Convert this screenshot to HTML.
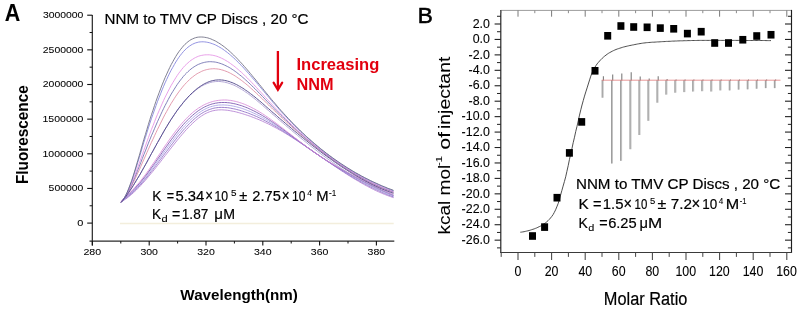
<!DOCTYPE html>
<html><head><meta charset="utf-8"><style>
html,body{margin:0;padding:0;background:#fff;width:800px;height:310px;overflow:hidden}
svg{display:block;will-change:transform}
text{font-family:"Liberation Sans", sans-serif}
</style></head><body>
<svg width="800" height="310" viewBox="0 0 800 310">
<rect width="800" height="310" fill="#fff"/>
<text x="4.67" y="21.00" font-size="24" font-weight="bold" fill="#000" textLength="15.50" lengthAdjust="spacingAndGlyphs" stroke="#000" stroke-width="0.05">A</text>
<text x="104.56" y="24.00" font-size="15.2"  fill="#000" textLength="204.01" lengthAdjust="spacingAndGlyphs"  stroke="#000" stroke-width="0.2">NNM to TMV CP Discs , 20 °C</text>
<line x1="92.30" y1="15.00" x2="92.30" y2="245.60" stroke="#1c1c1c" stroke-width="1.15"/>
<line x1="89.50" y1="241.10" x2="394.30" y2="241.10" stroke="#2a2a2a" stroke-width="1.15"/>
<line x1="87.20" y1="15.20" x2="92.30" y2="15.20" stroke="#111" stroke-width="1.1"/>
<line x1="89.60" y1="32.52" x2="92.30" y2="32.52" stroke="#111" stroke-width="1.0"/>
<text x="42.92" y="17.90" font-size="9.9"  fill="#000" textLength="40.48" lengthAdjust="spacingAndGlyphs" stroke="#000" stroke-width="0.06">3000000</text>
<line x1="87.20" y1="49.85" x2="92.30" y2="49.85" stroke="#111" stroke-width="1.1"/>
<line x1="89.60" y1="67.17" x2="92.30" y2="67.17" stroke="#111" stroke-width="1.0"/>
<text x="42.80" y="52.55" font-size="9.9"  fill="#000" textLength="40.61" lengthAdjust="spacingAndGlyphs" stroke="#000" stroke-width="0.06">2500000</text>
<line x1="87.20" y1="84.50" x2="92.30" y2="84.50" stroke="#111" stroke-width="1.1"/>
<line x1="89.60" y1="101.83" x2="92.30" y2="101.83" stroke="#111" stroke-width="1.0"/>
<text x="42.80" y="87.20" font-size="9.9"  fill="#000" textLength="40.61" lengthAdjust="spacingAndGlyphs" stroke="#000" stroke-width="0.06">2000000</text>
<line x1="87.20" y1="119.15" x2="92.30" y2="119.15" stroke="#111" stroke-width="1.1"/>
<line x1="89.60" y1="136.47" x2="92.30" y2="136.47" stroke="#111" stroke-width="1.0"/>
<text x="42.52" y="121.85" font-size="9.9"  fill="#000" textLength="40.89" lengthAdjust="spacingAndGlyphs" stroke="#000" stroke-width="0.06">1500000</text>
<line x1="87.20" y1="153.80" x2="92.30" y2="153.80" stroke="#111" stroke-width="1.1"/>
<line x1="89.60" y1="171.12" x2="92.30" y2="171.12" stroke="#111" stroke-width="1.0"/>
<text x="42.52" y="156.50" font-size="9.9"  fill="#000" textLength="40.89" lengthAdjust="spacingAndGlyphs" stroke="#000" stroke-width="0.06">1000000</text>
<line x1="87.20" y1="188.45" x2="92.30" y2="188.45" stroke="#111" stroke-width="1.1"/>
<line x1="89.60" y1="205.77" x2="92.30" y2="205.77" stroke="#111" stroke-width="1.0"/>
<text x="48.64" y="191.15" font-size="9.9"  fill="#000" textLength="34.76" lengthAdjust="spacingAndGlyphs" stroke="#000" stroke-width="0.06">500000</text>
<line x1="87.20" y1="223.10" x2="92.30" y2="223.10" stroke="#111" stroke-width="1.1"/>
<text x="77.33" y="225.80" font-size="9.9"  fill="#000" textLength="6.10" lengthAdjust="spacingAndGlyphs" stroke="#000" stroke-width="0.06">0</text>
<line x1="92.40" y1="241.10" x2="92.40" y2="245.60" stroke="#111" stroke-width="1.1"/>
<text x="83.46" y="255.20" font-size="9.9"  fill="#000" textLength="17.75" lengthAdjust="spacingAndGlyphs" stroke="#000" stroke-width="0.06">280</text>
<line x1="120.80" y1="241.10" x2="120.80" y2="243.50" stroke="#111" stroke-width="1.0"/>
<line x1="149.20" y1="241.10" x2="149.20" y2="245.60" stroke="#111" stroke-width="1.1"/>
<text x="140.40" y="255.20" font-size="9.9"  fill="#000" textLength="17.61" lengthAdjust="spacingAndGlyphs" stroke="#000" stroke-width="0.06">300</text>
<line x1="177.60" y1="241.10" x2="177.60" y2="243.50" stroke="#111" stroke-width="1.0"/>
<line x1="206.00" y1="241.10" x2="206.00" y2="245.60" stroke="#111" stroke-width="1.1"/>
<text x="197.20" y="255.20" font-size="9.9"  fill="#000" textLength="17.61" lengthAdjust="spacingAndGlyphs" stroke="#000" stroke-width="0.06">320</text>
<line x1="234.40" y1="241.10" x2="234.40" y2="243.50" stroke="#111" stroke-width="1.0"/>
<line x1="262.80" y1="241.10" x2="262.80" y2="245.60" stroke="#111" stroke-width="1.1"/>
<text x="254.00" y="255.20" font-size="9.9"  fill="#000" textLength="17.61" lengthAdjust="spacingAndGlyphs" stroke="#000" stroke-width="0.06">340</text>
<line x1="291.20" y1="241.10" x2="291.20" y2="243.50" stroke="#111" stroke-width="1.0"/>
<line x1="319.60" y1="241.10" x2="319.60" y2="245.60" stroke="#111" stroke-width="1.1"/>
<text x="310.80" y="255.20" font-size="9.9"  fill="#000" textLength="17.61" lengthAdjust="spacingAndGlyphs" stroke="#000" stroke-width="0.06">360</text>
<line x1="348.00" y1="241.10" x2="348.00" y2="243.50" stroke="#111" stroke-width="1.0"/>
<line x1="376.40" y1="241.10" x2="376.40" y2="245.60" stroke="#111" stroke-width="1.1"/>
<text x="367.60" y="255.20" font-size="9.9"  fill="#000" textLength="17.61" lengthAdjust="spacingAndGlyphs" stroke="#000" stroke-width="0.06">380</text>
<g transform="translate(27.9,183.0) rotate(-90)">
<text x="-1.02" y="0.00" font-size="15.6" font-weight="bold" fill="#000" textLength="98.75" lengthAdjust="spacingAndGlyphs" >Fluorescence</text>
</g>
<text x="180.39" y="299.60" font-size="15" font-weight="bold" fill="#000" textLength="117.57" lengthAdjust="spacingAndGlyphs" >Wavelength(nm)</text>
<line x1="120.00" y1="223.50" x2="393.70" y2="223.50" stroke="#f3eedc" stroke-width="1.3"/>
<line x1="277.90" y1="51.00" x2="277.90" y2="89.00" stroke="#e2000e" stroke-width="2.3"/>
<polyline points="273.6,82.6 277.9,89.8 282.2,82.6" fill="none" stroke="#e2000e" stroke-width="2.2" stroke-linejoin="miter" stroke-linecap="round"/>
<text x="296.49" y="69.90" font-size="15.8" font-weight="bold" fill="#e2000e" textLength="82.82" lengthAdjust="spacingAndGlyphs" >Increasing</text>
<text x="296.51" y="89.90" font-size="15.8" font-weight="bold" fill="#e2000e" textLength="37.08" lengthAdjust="spacingAndGlyphs" >NNM</text>
<text x="152.17" y="201.00" font-size="15.1"  fill="#000" textLength="9.18" lengthAdjust="spacingAndGlyphs"  stroke="#000" stroke-width="0.2">K</text>
<text x="166.69" y="201.00" font-size="15.1"  fill="#000" textLength="7.33" lengthAdjust="spacingAndGlyphs"  stroke="#000" stroke-width="0.2">=</text>
<text x="175.51" y="201.00" font-size="15.1"  fill="#000" textLength="28.83" lengthAdjust="spacingAndGlyphs"  stroke="#000" stroke-width="0.2">5.34</text>
<text x="214.47" y="201.00" font-size="15.1"  fill="#000" textLength="13.61" lengthAdjust="spacingAndGlyphs"  stroke="#000" stroke-width="0.2">10</text>
<text x="239.34" y="201.00" font-size="15.1"  fill="#000" textLength="8.02" lengthAdjust="spacingAndGlyphs"  stroke="#000" stroke-width="0.2">±</text>
<text x="252.26" y="201.00" font-size="15.1"  fill="#000" textLength="28.55" lengthAdjust="spacingAndGlyphs"  stroke="#000" stroke-width="0.2">2.75</text>
<text x="291.98" y="201.00" font-size="15.1"  fill="#000" textLength="13.39" lengthAdjust="spacingAndGlyphs"  stroke="#000" stroke-width="0.2">10</text>
<text x="316.29" y="201.00" font-size="15.1"  fill="#000" textLength="12.33" lengthAdjust="spacingAndGlyphs"  stroke="#000" stroke-width="0.2">M</text>
<text x="205.28" y="201.00" font-size="15.8"  fill="#000" textLength="7.73" lengthAdjust="spacingAndGlyphs"  stroke="#000" stroke-width="0.2">×</text>
<text x="281.77" y="201.00" font-size="15.8"  fill="#000" textLength="7.86" lengthAdjust="spacingAndGlyphs"  stroke="#000" stroke-width="0.2">×</text>
<text x="231.10" y="196.00" font-size="9.3"  fill="#000" textLength="5.51" lengthAdjust="spacingAndGlyphs" stroke="#000" stroke-width="0.1">5</text>
<text x="307.30" y="196.00" font-size="9.3"  fill="#000" textLength="4.75" lengthAdjust="spacingAndGlyphs" stroke="#000" stroke-width="0.1">4</text>
<text x="329.04" y="196.00" font-size="9.3"  fill="#000" textLength="7.26" lengthAdjust="spacingAndGlyphs" stroke="#000" stroke-width="0.1">-1</text>
<text x="151.88" y="219.00" font-size="15.1"  fill="#000" textLength="9.07" lengthAdjust="spacingAndGlyphs"  stroke="#000" stroke-width="0.2">K</text>
<text x="172.01" y="219.00" font-size="15.1"  fill="#000" textLength="8.29" lengthAdjust="spacingAndGlyphs"  stroke="#000" stroke-width="0.2">=</text>
<text x="181.76" y="219.00" font-size="15.1"  fill="#000" textLength="26.63" lengthAdjust="spacingAndGlyphs"  stroke="#000" stroke-width="0.2">1.87</text>
<text x="214.18" y="219.00" font-size="15.1"  fill="#000" textLength="8.73" lengthAdjust="spacingAndGlyphs"  stroke="#000" stroke-width="0.2">μ</text>
<text x="223.24" y="219.00" font-size="15.1"  fill="#000" textLength="11.83" lengthAdjust="spacingAndGlyphs"  stroke="#000" stroke-width="0.2">M</text>
<text x="161.53" y="222.00" font-size="8.8"  fill="#000" textLength="6.18" lengthAdjust="spacingAndGlyphs" stroke="#000" stroke-width="0.1">d</text>
<polyline points="121.0,201.9 122.5,201.1 124.0,200.1 125.6,199.1 127.1,198.0 128.6,196.8 130.1,195.6 131.7,194.3 133.2,192.9 134.7,191.5 136.2,190.1 137.7,188.5 139.3,187.0 140.8,185.4 142.3,183.7 143.8,182.0 145.4,180.3 146.9,178.5 148.4,176.7 149.9,174.9 151.4,173.1 153.0,171.2 154.5,169.3 156.0,167.4 157.5,165.5 159.1,163.5 160.6,161.6 162.1,159.6 163.6,157.6 165.1,155.7 166.7,153.7 168.2,151.8 169.7,149.8 171.2,147.9 172.8,145.9 174.3,144.0 175.8,142.1 177.3,140.2 178.8,138.4 180.4,136.5 181.9,134.7 183.4,133.0 184.9,131.2 186.5,129.5 188.0,127.9 189.5,126.3 191.0,124.8 192.6,123.3 194.1,121.9 195.6,120.5 197.1,119.2 198.6,118.0 200.2,116.9 201.7,115.8 203.2,114.9 204.7,114.0 206.3,113.2 207.8,112.5 209.3,111.9 210.8,111.4 212.3,110.9 213.9,110.6 215.4,110.3 216.9,110.1 218.4,109.9 220.0,109.9 221.5,109.8 223.0,109.9 224.5,110.0 226.0,110.1 227.6,110.3 229.1,110.5 230.6,110.8 232.1,111.1 233.7,111.4 235.2,111.7 236.7,112.1 238.2,112.5 239.7,112.9 241.3,113.4 242.8,113.8 244.3,114.3 245.8,114.8 247.4,115.3 248.9,115.8 250.4,116.3 251.9,116.9 253.4,117.5 255.0,118.1 256.5,118.7 258.0,119.3 259.5,119.9 261.1,120.6 262.6,121.3 264.1,122.0 265.6,122.7 267.1,123.4 268.7,124.1 270.2,124.9 271.7,125.7 273.2,126.5 274.8,127.3 276.3,128.1 277.8,128.9 279.3,129.8 280.8,130.6 282.4,131.5 283.9,132.4 285.4,133.3 286.9,134.2 288.5,135.2 290.0,136.1 291.5,137.1 293.0,138.0 294.5,139.0 296.1,140.0 297.6,141.0 299.1,142.0 300.6,143.0 302.2,144.0 303.7,145.0 305.2,146.0 306.7,147.1 308.2,148.1 309.8,149.1 311.3,150.2 312.8,151.2 314.3,152.3 315.9,153.3 317.4,154.4 318.9,155.4 320.4,156.5 321.9,157.5 323.5,158.6 325.0,159.6 326.5,160.7 328.0,161.7 329.6,162.7 331.1,163.8 332.6,164.8 334.1,165.9 335.7,166.9 337.2,167.9 338.7,168.9 340.2,169.9 341.7,170.9 343.3,171.9 344.8,172.9 346.3,173.9 347.8,174.8 349.4,175.8 350.9,176.8 352.4,177.7 353.9,178.6 355.4,179.5 357.0,180.4 358.5,181.3 360.0,182.2 361.5,183.1 363.1,183.9 364.6,184.8 366.1,185.6 367.6,186.4 369.1,187.2 370.7,188.0 372.2,188.8 373.7,189.5 375.2,190.3 376.8,191.0 378.3,191.7 379.8,192.4 381.3,193.0 382.8,193.7 384.4,194.3 385.9,194.9 387.4,195.5 388.9,196.0 390.5,196.6 392.0,197.1 393.5,197.6" fill="none" stroke="#b27ed2" stroke-width="0.85" stroke-opacity="1.0"/>
<polyline points="121.0,201.8 122.5,200.8 124.0,199.7 125.6,198.5 127.1,197.3 128.6,196.1 130.1,194.8 131.7,193.4 133.2,192.0 134.7,190.5 136.2,189.0 137.7,187.5 139.3,185.8 140.8,184.2 142.3,182.5 143.8,180.7 145.4,178.9 146.9,177.1 148.4,175.2 149.9,173.3 151.4,171.3 153.0,169.4 154.5,167.4 156.0,165.4 157.5,163.4 159.1,161.3 160.6,159.3 162.1,157.3 163.6,155.2 165.1,153.2 166.7,151.2 168.2,149.2 169.7,147.2 171.2,145.2 172.8,143.2 174.3,141.2 175.8,139.3 177.3,137.4 178.8,135.5 180.4,133.7 181.9,131.9 183.4,130.1 184.9,128.4 186.5,126.8 188.0,125.1 189.5,123.6 191.0,122.1 192.6,120.6 194.1,119.2 195.6,117.9 197.1,116.7 198.6,115.5 200.2,114.4 201.7,113.4 203.2,112.5 204.7,111.6 206.3,110.9 207.8,110.2 209.3,109.6 210.8,109.1 212.3,108.6 213.9,108.2 215.4,107.9 216.9,107.7 218.4,107.5 220.0,107.4 221.5,107.4 223.0,107.4 224.5,107.5 226.0,107.6 227.6,107.7 229.1,107.9 230.6,108.2 232.1,108.5 233.7,108.8 235.2,109.1 236.7,109.5 238.2,109.9 239.7,110.3 241.3,110.8 242.8,111.3 244.3,111.8 245.8,112.3 247.4,112.8 248.9,113.4 250.4,114.0 251.9,114.6 253.4,115.2 255.0,115.9 256.5,116.5 258.0,117.2 259.5,117.9 261.1,118.7 262.6,119.4 264.1,120.2 265.6,121.0 267.1,121.8 268.7,122.6 270.2,123.4 271.7,124.3 273.2,125.1 274.8,126.0 276.3,126.9 277.8,127.8 279.3,128.8 280.8,129.7 282.4,130.6 283.9,131.6 285.4,132.6 286.9,133.6 288.5,134.6 290.0,135.6 291.5,136.6 293.0,137.6 294.5,138.6 296.1,139.7 297.6,140.7 299.1,141.7 300.6,142.8 302.2,143.8 303.7,144.9 305.2,145.9 306.7,147.0 308.2,148.1 309.8,149.1 311.3,150.2 312.8,151.2 314.3,152.3 315.9,153.3 317.4,154.4 318.9,155.4 320.4,156.5 321.9,157.5 323.5,158.5 325.0,159.6 326.5,160.6 328.0,161.6 329.6,162.6 331.1,163.6 332.6,164.6 334.1,165.6 335.7,166.6 337.2,167.6 338.7,168.6 340.2,169.5 341.7,170.5 343.3,171.4 344.8,172.4 346.3,173.3 347.8,174.3 349.4,175.2 350.9,176.1 352.4,177.0 353.9,177.9 355.4,178.8 357.0,179.6 358.5,180.5 360.0,181.3 361.5,182.2 363.1,183.0 364.6,183.8 366.1,184.6 367.6,185.4 369.1,186.2 370.7,187.0 372.2,187.7 373.7,188.5 375.2,189.2 376.8,189.9 378.3,190.6 379.8,191.3 381.3,192.0 382.8,192.7 384.4,193.3 385.9,193.9 387.4,194.6 388.9,195.2 390.5,195.7 392.0,196.3 393.5,196.9" fill="none" stroke="#8c6cc4" stroke-width="0.85" stroke-opacity="1.0"/>
<polyline points="121.0,201.7 122.5,200.5 124.0,199.3 125.6,198.0 127.1,196.7 128.6,195.4 130.1,194.0 131.7,192.6 133.2,191.1 134.7,189.6 136.2,188.0 137.7,186.4 139.3,184.7 140.8,183.0 142.3,181.2 143.8,179.4 145.4,177.5 146.9,175.6 148.4,173.6 149.9,171.6 151.4,169.6 153.0,167.5 154.5,165.5 156.0,163.4 157.5,161.3 159.1,159.2 160.6,157.1 162.1,154.9 163.6,152.8 165.1,150.7 166.7,148.6 168.2,146.6 169.7,144.5 171.2,142.5 172.8,140.5 174.3,138.5 175.8,136.5 177.3,134.6 178.8,132.7 180.4,130.9 181.9,129.1 183.4,127.3 184.9,125.6 186.5,124.0 188.0,122.4 189.5,120.8 191.0,119.4 192.6,118.0 194.1,116.6 195.6,115.4 197.1,114.2 198.6,113.0 200.2,112.0 201.7,111.0 203.2,110.1 204.7,109.3 206.3,108.5 207.8,107.8 209.3,107.2 210.8,106.7 212.3,106.3 213.9,105.9 215.4,105.6 216.9,105.3 218.4,105.1 220.0,105.0 221.5,105.0 223.0,104.9 224.5,105.0 226.0,105.1 227.6,105.2 229.1,105.4 230.6,105.6 232.1,105.9 233.7,106.2 235.2,106.5 236.7,106.9 238.2,107.3 239.7,107.7 241.3,108.2 242.8,108.7 244.3,109.2 245.8,109.8 247.4,110.4 248.9,111.0 250.4,111.6 251.9,112.3 253.4,113.0 255.0,113.7 256.5,114.4 258.0,115.2 259.5,115.9 261.1,116.7 262.6,117.6 264.1,118.4 265.6,119.3 267.1,120.1 268.7,121.0 270.2,121.9 271.7,122.9 273.2,123.8 274.8,124.8 276.3,125.7 277.8,126.7 279.3,127.7 280.8,128.7 282.4,129.8 283.9,130.8 285.4,131.8 286.9,132.9 288.5,134.0 290.0,135.0 291.5,136.1 293.0,137.2 294.5,138.3 296.1,139.3 297.6,140.4 299.1,141.5 300.6,142.6 302.2,143.7 303.7,144.8 305.2,145.9 306.7,147.0 308.2,148.0 309.8,149.1 311.3,150.2 312.8,151.2 314.3,152.3 315.9,153.3 317.4,154.4 318.9,155.4 320.4,156.5 321.9,157.5 323.5,158.5 325.0,159.5 326.5,160.5 328.0,161.5 329.6,162.5 331.1,163.4 332.6,164.4 334.1,165.4 335.7,166.3 337.2,167.3 338.7,168.2 340.2,169.1 341.7,170.1 343.3,171.0 344.8,171.9 346.3,172.8 347.8,173.7 349.4,174.5 350.9,175.4 352.4,176.3 353.9,177.1 355.4,178.0 357.0,178.8 358.5,179.7 360.0,180.5 361.5,181.3 363.1,182.1 364.6,182.9 366.1,183.7 367.6,184.4 369.1,185.2 370.7,186.0 372.2,186.7 373.7,187.4 375.2,188.2 376.8,188.9 378.3,189.6 379.8,190.3 381.3,191.0 382.8,191.7 384.4,192.3 385.9,193.0 387.4,193.6 388.9,194.3 390.5,194.9 392.0,195.5 393.5,196.2" fill="none" stroke="#a9a0e6" stroke-width="0.85" stroke-opacity="1.0"/>
<polyline points="121.0,201.6 122.5,200.3 124.0,198.9 125.6,197.5 127.1,196.1 128.6,194.7 130.1,193.2 131.7,191.7 133.2,190.2 134.7,188.6 136.2,187.0 137.7,185.3 139.3,183.6 140.8,181.8 142.3,179.9 143.8,178.0 145.4,176.1 146.9,174.1 148.4,172.0 149.9,170.0 151.4,167.8 153.0,165.7 154.5,163.6 156.0,161.4 157.5,159.2 159.1,157.0 160.6,154.8 162.1,152.6 163.6,150.4 165.1,148.3 166.7,146.1 168.2,144.0 169.7,141.8 171.2,139.8 172.8,137.7 174.3,135.7 175.8,133.7 177.3,131.8 178.8,129.9 180.4,128.0 181.9,126.2 183.4,124.5 184.9,122.8 186.5,121.2 188.0,119.6 189.5,118.1 191.0,116.7 192.6,115.3 194.1,114.0 195.6,112.8 197.1,111.6 198.6,110.5 200.2,109.5 201.7,108.6 203.2,107.7 204.7,106.9 206.3,106.2 207.8,105.5 209.3,104.9 210.8,104.4 212.3,103.9 213.9,103.6 215.4,103.2 216.9,103.0 218.4,102.7 220.0,102.6 221.5,102.5 223.0,102.5 224.5,102.5 226.0,102.5 227.6,102.7 229.1,102.8 230.6,103.0 232.1,103.3 233.7,103.6 235.2,103.9 236.7,104.3 238.2,104.7 239.7,105.2 241.3,105.6 242.8,106.2 244.3,106.7 245.8,107.3 247.4,107.9 248.9,108.6 250.4,109.3 251.9,110.0 253.4,110.7 255.0,111.5 256.5,112.3 258.0,113.1 259.5,113.9 261.1,114.8 262.6,115.7 264.1,116.6 265.6,117.5 267.1,118.5 268.7,119.5 270.2,120.5 271.7,121.5 273.2,122.5 274.8,123.5 276.3,124.6 277.8,125.6 279.3,126.7 280.8,127.8 282.4,128.9 283.9,130.0 285.4,131.1 286.9,132.2 288.5,133.4 290.0,134.5 291.5,135.6 293.0,136.8 294.5,137.9 296.1,139.0 297.6,140.2 299.1,141.3 300.6,142.4 302.2,143.6 303.7,144.7 305.2,145.8 306.7,146.9 308.2,148.0 309.8,149.1 311.3,150.2 312.8,151.3 314.3,152.3 315.9,153.4 317.4,154.4 318.9,155.4 320.4,156.4 321.9,157.5 323.5,158.4 325.0,159.4 326.5,160.4 328.0,161.4 329.6,162.3 331.1,163.3 332.6,164.2 334.1,165.1 335.7,166.1 337.2,167.0 338.7,167.9 340.2,168.8 341.7,169.6 343.3,170.5 344.8,171.4 346.3,172.2 347.8,173.1 349.4,173.9 350.9,174.8 352.4,175.6 353.9,176.4 355.4,177.2 357.0,178.0 358.5,178.8 360.0,179.6 361.5,180.4 363.1,181.2 364.6,181.9 366.1,182.7 367.6,183.4 369.1,184.2 370.7,184.9 372.2,185.7 373.7,186.4 375.2,187.1 376.8,187.8 378.3,188.6 379.8,189.3 381.3,190.0 382.8,190.7 384.4,191.4 385.9,192.1 387.4,192.7 388.9,193.4 390.5,194.1 392.0,194.8 393.5,195.4" fill="none" stroke="#7650ac" stroke-width="0.85" stroke-opacity="1.0"/>
<polyline points="121.0,201.5 122.5,200.0 124.0,198.5 125.6,197.0 127.1,195.5 128.6,193.9 130.1,192.4 131.7,190.8 133.2,189.3 134.7,187.6 136.2,186.0 137.7,184.2 139.3,182.5 140.8,180.6 142.3,178.7 143.8,176.7 145.4,174.7 146.9,172.6 148.4,170.5 149.9,168.3 151.4,166.1 153.0,163.9 154.5,161.6 156.0,159.4 157.5,157.1 159.1,154.8 160.6,152.6 162.1,150.3 163.6,148.0 165.1,145.8 166.7,143.6 168.2,141.4 169.7,139.2 171.2,137.1 172.8,135.0 174.3,132.9 175.8,130.9 177.3,129.0 178.8,127.1 180.4,125.2 181.9,123.4 183.4,121.7 184.9,120.0 186.5,118.4 188.0,116.8 189.5,115.4 191.0,114.0 192.6,112.6 194.1,111.4 195.6,110.2 197.1,109.1 198.6,108.0 200.2,107.1 201.7,106.2 203.2,105.3 204.7,104.5 206.3,103.8 207.8,103.2 209.3,102.6 210.8,102.1 212.3,101.6 213.9,101.2 215.4,100.9 216.9,100.6 218.4,100.4 220.0,100.2 221.5,100.1 223.0,100.0 224.5,100.0 226.0,100.0 227.6,100.1 229.1,100.3 230.6,100.4 232.1,100.7 233.7,101.0 235.2,101.3 236.7,101.7 238.2,102.1 239.7,102.6 241.3,103.1 242.8,103.6 244.3,104.2 245.8,104.8 247.4,105.5 248.9,106.2 250.4,106.9 251.9,107.7 253.4,108.5 255.0,109.3 256.5,110.2 258.0,111.0 259.5,111.9 261.1,112.9 262.6,113.8 264.1,114.8 265.6,115.8 267.1,116.9 268.7,117.9 270.2,119.0 271.7,120.1 273.2,121.2 274.8,122.3 276.3,123.4 277.8,124.5 279.3,125.7 280.8,126.9 282.4,128.0 283.9,129.2 285.4,130.4 286.9,131.6 288.5,132.8 290.0,133.9 291.5,135.1 293.0,136.3 294.5,137.5 296.1,138.7 297.6,139.9 299.1,141.1 300.6,142.3 302.2,143.4 303.7,144.6 305.2,145.7 306.7,146.9 308.2,148.0 309.8,149.1 311.3,150.2 312.8,151.3 314.3,152.3 315.9,153.4 317.4,154.4 318.9,155.4 320.4,156.4 321.9,157.4 323.5,158.4 325.0,159.4 326.5,160.3 328.0,161.3 329.6,162.2 331.1,163.1 332.6,164.0 334.1,164.9 335.7,165.8 337.2,166.7 338.7,167.5 340.2,168.4 341.7,169.2 343.3,170.0 344.8,170.9 346.3,171.7 347.8,172.5 349.4,173.3 350.9,174.1 352.4,174.9 353.9,175.7 355.4,176.4 357.0,177.2 358.5,178.0 360.0,178.7 361.5,179.5 363.1,180.2 364.6,181.0 366.1,181.7 367.6,182.4 369.1,183.2 370.7,183.9 372.2,184.6 373.7,185.4 375.2,186.1 376.8,186.8 378.3,187.5 379.8,188.2 381.3,189.0 382.8,189.7 384.4,190.4 385.9,191.1 387.4,191.8 388.9,192.6 390.5,193.3 392.0,194.0 393.5,194.7" fill="none" stroke="#d88ad8" stroke-width="0.85" stroke-opacity="1.0"/>
<polyline points="121.0,202.4 122.5,200.6 124.0,198.7 125.6,196.5 127.1,194.1 128.6,191.5 130.1,188.7 131.7,185.8 133.2,182.8 134.7,179.7 136.2,176.5 137.7,173.1 139.3,169.8 140.8,166.4 142.3,162.9 143.8,159.5 145.4,156.0 146.9,152.6 148.4,149.2 149.9,145.8 151.4,142.4 153.0,139.1 154.5,135.8 156.0,132.6 157.5,129.4 159.1,126.2 160.6,123.1 162.1,120.1 163.6,117.1 165.1,114.2 166.7,111.4 168.2,108.7 169.7,106.0 171.2,103.4 172.8,100.9 174.3,98.5 175.8,96.2 177.3,94.0 178.8,91.9 180.4,89.8 181.9,87.9 183.4,86.0 184.9,84.3 186.5,82.6 188.0,81.1 189.5,79.6 191.0,78.2 192.6,77.0 194.1,75.8 195.6,74.7 197.1,73.7 198.6,72.9 200.2,72.1 201.7,71.3 203.2,70.7 204.7,70.2 206.3,69.7 207.8,69.4 209.3,69.1 210.8,68.9 212.3,68.8 213.9,68.7 215.4,68.8 216.9,68.9 218.4,69.1 220.0,69.4 221.5,69.8 223.0,70.2 224.5,70.7 226.0,71.3 227.6,71.9 229.1,72.6 230.6,73.4 232.1,74.2 233.7,75.1 235.2,76.0 236.7,77.0 238.2,78.1 239.7,79.1 241.3,80.3 242.8,81.4 244.3,82.6 245.8,83.8 247.4,85.1 248.9,86.4 250.4,87.8 251.9,89.1 253.4,90.5 255.0,91.9 256.5,93.3 258.0,94.7 259.5,96.2 261.1,97.7 262.6,99.1 264.1,100.6 265.6,102.1 267.1,103.6 268.7,105.1 270.2,106.6 271.7,108.0 273.2,109.5 274.8,111.0 276.3,112.4 277.8,113.9 279.3,115.3 280.8,116.7 282.4,118.2 283.9,119.6 285.4,121.0 286.9,122.4 288.5,123.8 290.0,125.2 291.5,126.5 293.0,127.9 294.5,129.2 296.1,130.6 297.6,131.9 299.1,133.2 300.6,134.5 302.2,135.9 303.7,137.1 305.2,138.4 306.7,139.7 308.2,141.0 309.8,142.2 311.3,143.5 312.8,144.7 314.3,145.9 315.9,147.1 317.4,148.3 318.9,149.5 320.4,150.7 321.9,151.9 323.5,153.0 325.0,154.2 326.5,155.3 328.0,156.4 329.6,157.5 331.1,158.6 332.6,159.7 334.1,160.8 335.7,161.9 337.2,162.9 338.7,164.0 340.2,165.0 341.7,166.0 343.3,167.0 344.8,168.0 346.3,169.0 347.8,169.9 349.4,170.9 350.9,171.8 352.4,172.8 353.9,173.7 355.4,174.6 357.0,175.5 358.5,176.3 360.0,177.2 361.5,178.0 363.1,178.9 364.6,179.7 366.1,180.5 367.6,181.3 369.1,182.1 370.7,182.8 372.2,183.6 373.7,184.3 375.2,185.0 376.8,185.7 378.3,186.4 379.8,187.1 381.3,187.7 382.8,188.4 384.4,189.0 385.9,189.6 387.4,190.2 388.9,190.8 390.5,191.4 392.0,191.9 393.5,192.5" fill="none" stroke="#de8aa0" stroke-width="0.85" stroke-opacity="1.0"/>
<polyline points="121.0,202.4 122.5,200.6 124.0,198.6 125.6,196.3 127.1,193.7 128.6,190.8 130.1,187.8 131.7,184.6 133.2,181.2 134.7,177.6 136.2,174.0 137.7,170.2 139.3,166.4 140.8,162.5 142.3,158.6 143.8,154.7 145.4,150.9 146.9,147.0 148.4,143.2 149.9,139.5 151.4,135.8 153.0,132.2 154.5,128.6 156.0,125.1 157.5,121.6 159.1,118.2 160.6,114.9 162.1,111.7 163.6,108.5 165.1,105.5 166.7,102.5 168.2,99.6 169.7,96.8 171.2,94.1 172.8,91.5 174.3,89.1 175.8,86.7 177.3,84.4 178.8,82.3 180.4,80.2 181.9,78.3 183.4,76.4 184.9,74.7 186.5,73.1 188.0,71.6 189.5,70.3 191.0,69.0 192.6,67.8 194.1,66.8 195.6,65.9 197.1,65.0 198.6,64.3 200.2,63.7 201.7,63.1 203.2,62.7 204.7,62.3 206.3,62.0 207.8,61.8 209.3,61.7 210.8,61.7 212.3,61.8 213.9,61.9 215.4,62.1 216.9,62.4 218.4,62.8 220.0,63.3 221.5,63.8 223.0,64.4 224.5,65.1 226.0,65.8 227.6,66.6 229.1,67.4 230.6,68.3 232.1,69.3 233.7,70.3 235.2,71.4 236.7,72.5 238.2,73.7 239.7,74.9 241.3,76.1 242.8,77.4 244.3,78.7 245.8,80.1 247.4,81.5 248.9,82.9 250.4,84.3 251.9,85.8 253.4,87.3 255.0,88.8 256.5,90.3 258.0,91.9 259.5,93.4 261.1,95.0 262.6,96.6 264.1,98.1 265.6,99.7 267.1,101.3 268.7,102.9 270.2,104.4 271.7,106.0 273.2,107.6 274.8,109.1 276.3,110.7 277.8,112.2 279.3,113.7 280.8,115.2 282.4,116.7 283.9,118.2 285.4,119.6 286.9,121.1 288.5,122.5 290.0,124.0 291.5,125.4 293.0,126.8 294.5,128.2 296.1,129.6 297.6,131.0 299.1,132.3 300.6,133.7 302.2,135.0 303.7,136.4 305.2,137.7 306.7,139.0 308.2,140.3 309.8,141.5 311.3,142.8 312.8,144.1 314.3,145.3 315.9,146.5 317.4,147.8 318.9,149.0 320.4,150.2 321.9,151.3 323.5,152.5 325.0,153.7 326.5,154.8 328.0,155.9 329.6,157.1 331.1,158.2 332.6,159.3 334.1,160.3 335.7,161.4 337.2,162.5 338.7,163.5 340.2,164.5 341.7,165.6 343.3,166.6 344.8,167.5 346.3,168.5 347.8,169.5 349.4,170.4 350.9,171.4 352.4,172.3 353.9,173.2 355.4,174.1 357.0,175.0 358.5,175.8 360.0,176.7 361.5,177.5 363.1,178.4 364.6,179.2 366.1,180.0 367.6,180.8 369.1,181.5 370.7,182.3 372.2,183.0 373.7,183.8 375.2,184.5 376.8,185.2 378.3,185.9 379.8,186.6 381.3,187.2 382.8,187.9 384.4,188.5 385.9,189.1 387.4,189.7 388.9,190.3 390.5,190.9 392.0,191.4 393.5,192.0" fill="none" stroke="#6c6cae" stroke-width="0.85" stroke-opacity="1.0"/>
<polyline points="121.0,202.3 122.5,200.6 124.0,198.5 125.6,196.1 127.1,193.3 128.6,190.2 130.1,186.9 131.7,183.3 133.2,179.6 134.7,175.7 136.2,171.6 137.7,167.4 139.3,163.2 140.8,158.9 142.3,154.6 143.8,150.3 145.4,146.0 146.9,141.8 148.4,137.7 149.9,133.6 151.4,129.6 153.0,125.7 154.5,121.8 156.0,118.0 157.5,114.3 159.1,110.7 160.6,107.2 162.1,103.8 163.6,100.4 165.1,97.2 166.7,94.1 168.2,91.1 169.7,88.2 171.2,85.4 172.8,82.7 174.3,80.2 175.8,77.7 177.3,75.4 178.8,73.2 180.4,71.2 181.9,69.2 183.4,67.4 184.9,65.7 186.5,64.2 188.0,62.8 189.5,61.5 191.0,60.3 192.6,59.3 194.1,58.3 195.6,57.5 197.1,56.8 198.6,56.2 200.2,55.7 201.7,55.4 203.2,55.1 204.7,54.9 206.3,54.8 207.8,54.8 209.3,54.8 210.8,55.0 212.3,55.2 213.9,55.5 215.4,55.9 216.9,56.3 218.4,56.9 220.0,57.5 221.5,58.2 223.0,58.9 224.5,59.7 226.0,60.6 227.6,61.5 229.1,62.5 230.6,63.6 232.1,64.7 233.7,65.8 235.2,67.0 236.7,68.3 238.2,69.5 239.7,70.9 241.3,72.2 242.8,73.6 244.3,75.1 245.8,76.6 247.4,78.1 248.9,79.6 250.4,81.1 251.9,82.7 253.4,84.3 255.0,85.9 256.5,87.5 258.0,89.2 259.5,90.8 261.1,92.5 262.6,94.1 264.1,95.8 265.6,97.5 267.1,99.1 268.7,100.8 270.2,102.5 271.7,104.1 273.2,105.7 274.8,107.4 276.3,109.0 277.8,110.6 279.3,112.2 280.8,113.7 282.4,115.3 283.9,116.8 285.4,118.4 286.9,119.9 288.5,121.4 290.0,122.9 291.5,124.3 293.0,125.8 294.5,127.2 296.1,128.7 297.6,130.1 299.1,131.5 300.6,132.9 302.2,134.3 303.7,135.6 305.2,137.0 306.7,138.3 308.2,139.6 309.8,140.9 311.3,142.2 312.8,143.5 314.3,144.8 315.9,146.0 317.4,147.2 318.9,148.5 320.4,149.7 321.9,150.9 323.5,152.0 325.0,153.2 326.5,154.4 328.0,155.5 329.6,156.6 331.1,157.7 332.6,158.8 334.1,159.9 335.7,161.0 337.2,162.0 338.7,163.1 340.2,164.1 341.7,165.1 343.3,166.1 344.8,167.1 346.3,168.1 347.8,169.1 349.4,170.0 350.9,170.9 352.4,171.8 353.9,172.8 355.4,173.6 357.0,174.5 358.5,175.4 360.0,176.2 361.5,177.1 363.1,177.9 364.6,178.7 366.1,179.5 367.6,180.3 369.1,181.1 370.7,181.8 372.2,182.6 373.7,183.3 375.2,184.0 376.8,184.7 378.3,185.4 379.8,186.1 381.3,186.7 382.8,187.4 384.4,188.0 385.9,188.6 387.4,189.2 388.9,189.8 390.5,190.4 392.0,191.0 393.5,191.5" fill="none" stroke="#e590e5" stroke-width="0.85" stroke-opacity="1.0"/>
<polyline points="121.0,202.3 122.5,200.6 124.0,198.4 125.6,195.7 127.1,192.6 128.6,189.2 130.1,185.3 131.7,181.2 133.2,176.8 134.7,172.2 136.2,167.5 137.7,162.6 139.3,157.6 140.8,152.5 142.3,147.5 143.8,142.4 145.4,137.5 146.9,132.7 148.4,127.9 149.9,123.2 151.4,118.7 153.0,114.2 154.5,109.9 156.0,105.7 157.5,101.5 159.1,97.5 160.6,93.7 162.1,89.9 163.6,86.3 165.1,82.8 166.7,79.4 168.2,76.1 169.7,73.0 171.2,70.1 172.8,67.3 174.3,64.6 175.8,62.0 177.3,59.7 178.8,57.4 180.4,55.3 181.9,53.4 183.4,51.6 184.9,50.0 186.5,48.5 188.0,47.2 189.5,46.1 191.0,45.1 192.6,44.2 194.1,43.5 195.6,42.9 197.1,42.5 198.6,42.1 200.2,41.9 201.7,41.8 203.2,41.8 204.7,41.9 206.3,42.1 207.8,42.4 209.3,42.7 210.8,43.2 212.3,43.7 213.9,44.3 215.4,44.9 216.9,45.7 218.4,46.5 220.0,47.4 221.5,48.3 223.0,49.3 224.5,50.4 226.0,51.5 227.6,52.7 229.1,53.9 230.6,55.2 232.1,56.5 233.7,57.9 235.2,59.3 236.7,60.8 238.2,62.3 239.7,63.9 241.3,65.4 242.8,67.0 244.3,68.7 245.8,70.4 247.4,72.1 248.9,73.8 250.4,75.5 251.9,77.3 253.4,79.0 255.0,80.8 256.5,82.6 258.0,84.4 259.5,86.3 261.1,88.1 262.6,89.9 264.1,91.7 265.6,93.6 267.1,95.4 268.7,97.2 270.2,99.0 271.7,100.8 273.2,102.6 274.8,104.3 276.3,106.1 277.8,107.8 279.3,109.5 280.8,111.2 282.4,112.9 283.9,114.5 285.4,116.1 286.9,117.8 288.5,119.3 290.0,120.9 291.5,122.5 293.0,124.0 294.5,125.5 296.1,127.1 297.6,128.5 299.1,130.0 300.6,131.5 302.2,132.9 303.7,134.3 305.2,135.7 306.7,137.1 308.2,138.5 309.8,139.8 311.3,141.1 312.8,142.5 314.3,143.8 315.9,145.0 317.4,146.3 318.9,147.6 320.4,148.8 321.9,150.0 323.5,151.2 325.0,152.4 326.5,153.6 328.0,154.7 329.6,155.8 331.1,157.0 332.6,158.1 334.1,159.2 335.7,160.2 337.2,161.3 338.7,162.3 340.2,163.4 341.7,164.4 343.3,165.4 344.8,166.4 346.3,167.3 347.8,168.3 349.4,169.2 350.9,170.2 352.4,171.1 353.9,172.0 355.4,172.9 357.0,173.7 358.5,174.6 360.0,175.4 361.5,176.3 363.1,177.1 364.6,177.9 366.1,178.7 367.6,179.4 369.1,180.2 370.7,181.0 372.2,181.7 373.7,182.4 375.2,183.1 376.8,183.8 378.3,184.5 379.8,185.2 381.3,185.8 382.8,186.5 384.4,187.1 385.9,187.8 387.4,188.4 388.9,189.0 390.5,189.6 392.0,190.1 393.5,190.7" fill="none" stroke="#8080dc" stroke-width="0.85" stroke-opacity="1.0"/>
<polyline points="121.0,202.2 122.5,200.6 124.0,198.4 125.6,195.6 127.1,192.4 128.6,188.8 130.1,184.8 131.7,180.5 133.2,175.9 134.7,171.0 136.2,166.0 137.7,160.8 139.3,155.5 140.8,150.2 142.3,144.9 143.8,139.6 145.4,134.5 146.9,129.4 148.4,124.4 149.9,119.5 151.4,114.8 153.0,110.2 154.5,105.6 156.0,101.2 157.5,97.0 159.1,92.8 160.6,88.8 162.1,84.9 163.6,81.2 165.1,77.6 166.7,74.1 168.2,70.8 169.7,67.6 171.2,64.6 172.8,61.7 174.3,59.0 175.8,56.4 177.3,54.0 178.8,51.8 180.4,49.7 181.9,47.8 183.4,46.0 184.9,44.4 186.5,43.0 188.0,41.7 189.5,40.6 191.0,39.6 192.6,38.9 194.1,38.2 195.6,37.7 197.1,37.3 198.6,37.1 200.2,37.0 201.7,37.0 203.2,37.1 204.7,37.3 206.3,37.6 207.8,37.9 209.3,38.4 210.8,38.9 212.3,39.6 213.9,40.3 215.4,41.0 216.9,41.9 218.4,42.8 220.0,43.8 221.5,44.8 223.0,45.9 224.5,47.0 226.0,48.3 227.6,49.5 229.1,50.8 230.6,52.2 232.1,53.6 233.7,55.1 235.2,56.6 236.7,58.1 238.2,59.7 239.7,61.4 241.3,63.0 242.8,64.7 244.3,66.4 245.8,68.1 247.4,69.9 248.9,71.7 250.4,73.5 251.9,75.3 253.4,77.2 255.0,79.0 256.5,80.9 258.0,82.8 259.5,84.6 261.1,86.5 262.6,88.4 264.1,90.3 265.6,92.2 267.1,94.0 268.7,95.9 270.2,97.8 271.7,99.6 273.2,101.4 274.8,103.2 276.3,105.0 277.8,106.8 279.3,108.5 280.8,110.3 282.4,112.0 283.9,113.7 285.4,115.3 286.9,117.0 288.5,118.6 290.0,120.2 291.5,121.8 293.0,123.4 294.5,124.9 296.1,126.5 297.6,128.0 299.1,129.5 300.6,131.0 302.2,132.4 303.7,133.9 305.2,135.3 306.7,136.7 308.2,138.1 309.8,139.4 311.3,140.8 312.8,142.1 314.3,143.4 315.9,144.7 317.4,146.0 318.9,147.2 320.4,148.5 321.9,149.7 323.5,150.9 325.0,152.1 326.5,153.3 328.0,154.4 329.6,155.6 331.1,156.7 332.6,157.8 334.1,158.9 335.7,160.0 337.2,161.0 338.7,162.1 340.2,163.1 341.7,164.1 343.3,165.1 344.8,166.1 346.3,167.1 347.8,168.0 349.4,169.0 350.9,169.9 352.4,170.8 353.9,171.7 355.4,172.6 357.0,173.5 358.5,174.3 360.0,175.1 361.5,176.0 363.1,176.8 364.6,177.6 366.1,178.4 367.6,179.1 369.1,179.9 370.7,180.7 372.2,181.4 373.7,182.1 375.2,182.8 376.8,183.5 378.3,184.2 379.8,184.9 381.3,185.5 382.8,186.2 384.4,186.8 385.9,187.4 387.4,188.1 388.9,188.7 390.5,189.2 392.0,189.8 393.5,190.4" fill="none" stroke="#6a6a80" stroke-width="0.85" stroke-opacity="1.0"/>
<polyline points="121.0,202.5 122.5,200.7 124.0,198.8 125.6,196.8 127.1,194.7 128.6,192.6 130.1,190.4 131.7,188.0 133.2,185.7 134.7,183.2 136.2,180.7 137.7,178.2 139.3,175.6 140.8,173.0 142.3,170.3 143.8,167.6 145.4,164.8 146.9,162.1 148.4,159.3 149.9,156.5 151.4,153.7 153.0,150.9 154.5,148.1 156.0,145.4 157.5,142.6 159.1,139.9 160.6,137.2 162.1,134.5 163.6,131.8 165.1,129.2 166.7,126.6 168.2,124.1 169.7,121.7 171.2,119.3 172.8,117.0 174.3,114.7 175.8,112.5 177.3,110.4 178.8,108.3 180.4,106.3 181.9,104.4 183.4,102.5 184.9,100.7 186.5,99.0 188.0,97.3 189.5,95.8 191.0,94.3 192.6,92.9 194.1,91.5 195.6,90.3 197.1,89.1 198.6,88.1 200.2,87.1 201.7,86.1 203.2,85.3 204.7,84.6 206.3,83.9 207.8,83.3 209.3,82.8 210.8,82.4 212.3,82.0 213.9,81.8 215.4,81.6 216.9,81.5 218.4,81.5 220.0,81.5 221.5,81.7 223.0,81.9 224.5,82.1 226.0,82.5 227.6,82.9 229.1,83.4 230.6,83.9 232.1,84.5 233.7,85.1 235.2,85.8 236.7,86.6 238.2,87.4 239.7,88.3 241.3,89.2 242.8,90.1 244.3,91.1 245.8,92.2 247.4,93.2 248.9,94.3 250.4,95.5 251.9,96.6 253.4,97.8 255.0,99.0 256.5,100.3 258.0,101.5 259.5,102.8 261.1,104.1 262.6,105.4 264.1,106.7 265.6,108.1 267.1,109.4 268.7,110.7 270.2,112.0 271.7,113.4 273.2,114.7 274.8,116.0 276.3,117.3 277.8,118.7 279.3,120.0 280.8,121.3 282.4,122.6 283.9,123.9 285.4,125.2 286.9,126.5 288.5,127.8 290.0,129.1 291.5,130.3 293.0,131.6 294.5,132.9 296.1,134.2 297.6,135.4 299.1,136.7 300.6,137.9 302.2,139.2 303.7,140.4 305.2,141.6 306.7,142.8 308.2,144.1 309.8,145.3 311.3,146.5 312.8,147.7 314.3,148.8 315.9,150.0 317.4,151.2 318.9,152.4 320.4,153.5 321.9,154.7 323.5,155.8 325.0,156.9 326.5,158.0 328.0,159.1 329.6,160.2 331.1,161.3 332.6,162.4 334.1,163.5 335.7,164.5 337.2,165.6 338.7,166.6 340.2,167.7 341.7,168.7 343.3,169.7 344.8,170.7 346.3,171.6 347.8,172.6 349.4,173.6 350.9,174.5 352.4,175.5 353.9,176.4 355.4,177.3 357.0,178.2 358.5,179.1 360.0,179.9 361.5,180.8 363.1,181.6 364.6,182.4 366.1,183.3 367.6,184.0 369.1,184.8 370.7,185.6 372.2,186.4 373.7,187.1 375.2,187.8 376.8,188.5 378.3,189.2 379.8,189.9 381.3,190.5 382.8,191.2 384.4,191.8 385.9,192.4 387.4,193.0 388.9,193.6 390.5,194.2 392.0,194.7 393.5,195.2" fill="none" stroke="#a89ad0" stroke-width="0.85" stroke-opacity="1.0"/>
<polyline points="121.0,202.5 122.5,200.7 124.0,198.8 125.6,196.8 127.1,194.7 128.6,192.6 130.1,190.4 131.7,188.0 133.2,185.7 134.7,183.2 136.2,180.7 137.7,178.2 139.3,175.6 140.8,173.0 142.3,170.3 143.8,167.6 145.4,164.8 146.9,162.1 148.4,159.3 149.9,156.5 151.4,153.7 153.0,150.9 154.5,148.1 156.0,145.4 157.5,142.6 159.1,139.9 160.6,137.1 162.1,134.5 163.6,131.8 165.1,129.2 166.7,126.6 168.2,124.1 169.7,121.7 171.2,119.3 172.8,116.9 174.3,114.7 175.8,112.4 177.3,110.3 178.8,108.2 180.4,106.2 181.9,104.3 183.4,102.4 184.9,100.6 186.5,98.8 188.0,97.1 189.5,95.5 191.0,94.0 192.6,92.5 194.1,91.2 195.6,89.9 197.1,88.6 198.6,87.5 200.2,86.4 201.7,85.4 203.2,84.5 204.7,83.6 206.3,82.9 207.8,82.2 209.3,81.6 210.8,81.1 212.3,80.7 213.9,80.4 215.4,80.1 216.9,80.0 218.4,79.9 220.0,79.9 221.5,80.0 223.0,80.1 224.5,80.4 226.0,80.7 227.6,81.1 229.1,81.5 230.6,82.1 232.1,82.6 233.7,83.3 235.2,84.0 236.7,84.7 238.2,85.5 239.7,86.4 241.3,87.3 242.8,88.2 244.3,89.2 245.8,90.3 247.4,91.3 248.9,92.4 250.4,93.6 251.9,94.7 253.4,95.9 255.0,97.1 256.5,98.4 258.0,99.6 259.5,100.9 261.1,102.2 262.6,103.5 264.1,104.8 265.6,106.2 267.1,107.5 268.7,108.8 270.2,110.1 271.7,111.5 273.2,112.8 274.8,114.1 276.3,115.4 277.8,116.8 279.3,118.1 280.8,119.4 282.4,120.7 283.9,122.0 285.4,123.3 286.9,124.6 288.5,125.9 290.0,127.2 291.5,128.4 293.0,129.7 294.5,131.0 296.1,132.3 297.6,133.5 299.1,134.8 300.6,136.0 302.2,137.3 303.7,138.5 305.2,139.7 306.7,140.9 308.2,142.2 309.8,143.4 311.3,144.6 312.8,145.8 314.3,146.9 315.9,148.1 317.4,149.3 318.9,150.5 320.4,151.6 321.9,152.8 323.5,153.9 325.0,155.0 326.5,156.1 328.0,157.2 329.6,158.3 331.1,159.4 332.6,160.5 334.1,161.6 335.7,162.6 337.2,163.7 338.7,164.7 340.2,165.8 341.7,166.8 343.3,167.8 344.8,168.8 346.3,169.7 347.8,170.7 349.4,171.7 350.9,172.6 352.4,173.6 353.9,174.5 355.4,175.4 357.0,176.3 358.5,177.2 360.0,178.0 361.5,178.9 363.1,179.7 364.6,180.5 366.1,181.4 367.6,182.1 369.1,182.9 370.7,183.7 372.2,184.5 373.7,185.2 375.2,185.9 376.8,186.6 378.3,187.3 379.8,188.0 381.3,188.6 382.8,189.3 384.4,189.9 385.9,190.5 387.4,191.1 388.9,191.7 390.5,192.3 392.0,192.8 393.5,193.3" fill="none" stroke="#544c8c" stroke-width="0.95" stroke-opacity="1.0"/>
<text x="417.85" y="23.20" font-size="22.6"  fill="#000" textLength="15.04" lengthAdjust="spacingAndGlyphs" stroke="#000" stroke-width="0.6">B</text>
<line x1="500.80" y1="10.40" x2="791.50" y2="10.40" stroke="#9c9c9c" stroke-width="1.0"/>
<line x1="500.80" y1="9.90" x2="500.80" y2="253.00" stroke="#1e1e1e" stroke-width="1.15"/>
<line x1="791.50" y1="9.90" x2="791.50" y2="253.00" stroke="#1e1e1e" stroke-width="1.15"/>
<line x1="500.30" y1="252.50" x2="792.00" y2="252.50" stroke="#3a3a3a" stroke-width="1.1"/>
<line x1="497.00" y1="247.88" x2="500.80" y2="247.88" stroke="#222" stroke-width="1.0"/>
<line x1="787.90" y1="247.88" x2="791.50" y2="247.88" stroke="#222" stroke-width="1.0"/>
<line x1="494.60" y1="240.16" x2="500.80" y2="240.16" stroke="#222" stroke-width="1.1"/>
<line x1="785.00" y1="240.16" x2="791.50" y2="240.16" stroke="#222" stroke-width="1.1"/>
<text x="461.62" y="243.86" font-size="13.2"  fill="#000" textLength="28.26" lengthAdjust="spacingAndGlyphs" stroke="#000" stroke-width="0.1">-26.0</text>
<line x1="497.00" y1="232.44" x2="500.80" y2="232.44" stroke="#222" stroke-width="1.0"/>
<line x1="787.90" y1="232.44" x2="791.50" y2="232.44" stroke="#222" stroke-width="1.0"/>
<line x1="494.60" y1="224.72" x2="500.80" y2="224.72" stroke="#222" stroke-width="1.1"/>
<line x1="785.00" y1="224.72" x2="791.50" y2="224.72" stroke="#222" stroke-width="1.1"/>
<text x="461.62" y="228.42" font-size="13.2"  fill="#000" textLength="28.26" lengthAdjust="spacingAndGlyphs" stroke="#000" stroke-width="0.1">-24.0</text>
<line x1="497.00" y1="217.00" x2="500.80" y2="217.00" stroke="#222" stroke-width="1.0"/>
<line x1="787.90" y1="217.00" x2="791.50" y2="217.00" stroke="#222" stroke-width="1.0"/>
<line x1="494.60" y1="209.28" x2="500.80" y2="209.28" stroke="#222" stroke-width="1.1"/>
<line x1="785.00" y1="209.28" x2="791.50" y2="209.28" stroke="#222" stroke-width="1.1"/>
<text x="461.62" y="212.98" font-size="13.2"  fill="#000" textLength="28.26" lengthAdjust="spacingAndGlyphs" stroke="#000" stroke-width="0.1">-22.0</text>
<line x1="497.00" y1="201.56" x2="500.80" y2="201.56" stroke="#222" stroke-width="1.0"/>
<line x1="787.90" y1="201.56" x2="791.50" y2="201.56" stroke="#222" stroke-width="1.0"/>
<line x1="494.60" y1="193.84" x2="500.80" y2="193.84" stroke="#222" stroke-width="1.1"/>
<line x1="785.00" y1="193.84" x2="791.50" y2="193.84" stroke="#222" stroke-width="1.1"/>
<text x="461.62" y="197.54" font-size="13.2"  fill="#000" textLength="28.26" lengthAdjust="spacingAndGlyphs" stroke="#000" stroke-width="0.1">-20.0</text>
<line x1="497.00" y1="186.12" x2="500.80" y2="186.12" stroke="#222" stroke-width="1.0"/>
<line x1="787.90" y1="186.12" x2="791.50" y2="186.12" stroke="#222" stroke-width="1.0"/>
<line x1="494.60" y1="178.40" x2="500.80" y2="178.40" stroke="#222" stroke-width="1.1"/>
<line x1="785.00" y1="178.40" x2="791.50" y2="178.40" stroke="#222" stroke-width="1.1"/>
<text x="461.62" y="182.10" font-size="13.2"  fill="#000" textLength="28.26" lengthAdjust="spacingAndGlyphs" stroke="#000" stroke-width="0.1">-18.0</text>
<line x1="497.00" y1="170.68" x2="500.80" y2="170.68" stroke="#222" stroke-width="1.0"/>
<line x1="787.90" y1="170.68" x2="791.50" y2="170.68" stroke="#222" stroke-width="1.0"/>
<line x1="494.60" y1="162.96" x2="500.80" y2="162.96" stroke="#222" stroke-width="1.1"/>
<line x1="785.00" y1="162.96" x2="791.50" y2="162.96" stroke="#222" stroke-width="1.1"/>
<text x="461.62" y="166.66" font-size="13.2"  fill="#000" textLength="28.26" lengthAdjust="spacingAndGlyphs" stroke="#000" stroke-width="0.1">-16.0</text>
<line x1="497.00" y1="155.24" x2="500.80" y2="155.24" stroke="#222" stroke-width="1.0"/>
<line x1="787.90" y1="155.24" x2="791.50" y2="155.24" stroke="#222" stroke-width="1.0"/>
<line x1="494.60" y1="147.52" x2="500.80" y2="147.52" stroke="#222" stroke-width="1.1"/>
<line x1="785.00" y1="147.52" x2="791.50" y2="147.52" stroke="#222" stroke-width="1.1"/>
<text x="461.62" y="151.22" font-size="13.2"  fill="#000" textLength="28.26" lengthAdjust="spacingAndGlyphs" stroke="#000" stroke-width="0.1">-14.0</text>
<line x1="497.00" y1="139.80" x2="500.80" y2="139.80" stroke="#222" stroke-width="1.0"/>
<line x1="787.90" y1="139.80" x2="791.50" y2="139.80" stroke="#222" stroke-width="1.0"/>
<line x1="494.60" y1="132.08" x2="500.80" y2="132.08" stroke="#222" stroke-width="1.1"/>
<line x1="785.00" y1="132.08" x2="791.50" y2="132.08" stroke="#222" stroke-width="1.1"/>
<text x="461.62" y="135.78" font-size="13.2"  fill="#000" textLength="28.26" lengthAdjust="spacingAndGlyphs" stroke="#000" stroke-width="0.1">-12.0</text>
<line x1="497.00" y1="124.36" x2="500.80" y2="124.36" stroke="#222" stroke-width="1.0"/>
<line x1="787.90" y1="124.36" x2="791.50" y2="124.36" stroke="#222" stroke-width="1.0"/>
<line x1="494.60" y1="116.64" x2="500.80" y2="116.64" stroke="#222" stroke-width="1.1"/>
<line x1="785.00" y1="116.64" x2="791.50" y2="116.64" stroke="#222" stroke-width="1.1"/>
<text x="461.62" y="120.34" font-size="13.2"  fill="#000" textLength="28.26" lengthAdjust="spacingAndGlyphs" stroke="#000" stroke-width="0.1">-10.0</text>
<line x1="497.00" y1="108.92" x2="500.80" y2="108.92" stroke="#222" stroke-width="1.0"/>
<line x1="787.90" y1="108.92" x2="791.50" y2="108.92" stroke="#222" stroke-width="1.0"/>
<line x1="494.60" y1="101.20" x2="500.80" y2="101.20" stroke="#222" stroke-width="1.1"/>
<line x1="785.00" y1="101.20" x2="791.50" y2="101.20" stroke="#222" stroke-width="1.1"/>
<text x="468.52" y="104.90" font-size="13.2"  fill="#000" textLength="21.37" lengthAdjust="spacingAndGlyphs" stroke="#000" stroke-width="0.1">-8.0</text>
<line x1="497.00" y1="93.48" x2="500.80" y2="93.48" stroke="#222" stroke-width="1.0"/>
<line x1="787.90" y1="93.48" x2="791.50" y2="93.48" stroke="#222" stroke-width="1.0"/>
<line x1="494.60" y1="85.76" x2="500.80" y2="85.76" stroke="#222" stroke-width="1.1"/>
<line x1="785.00" y1="85.76" x2="791.50" y2="85.76" stroke="#222" stroke-width="1.1"/>
<text x="468.52" y="89.46" font-size="13.2"  fill="#000" textLength="21.37" lengthAdjust="spacingAndGlyphs" stroke="#000" stroke-width="0.1">-6.0</text>
<line x1="497.00" y1="78.04" x2="500.80" y2="78.04" stroke="#222" stroke-width="1.0"/>
<line x1="787.90" y1="78.04" x2="791.50" y2="78.04" stroke="#222" stroke-width="1.0"/>
<line x1="494.60" y1="70.32" x2="500.80" y2="70.32" stroke="#222" stroke-width="1.1"/>
<line x1="785.00" y1="70.32" x2="791.50" y2="70.32" stroke="#222" stroke-width="1.1"/>
<text x="468.52" y="74.02" font-size="13.2"  fill="#000" textLength="21.37" lengthAdjust="spacingAndGlyphs" stroke="#000" stroke-width="0.1">-4.0</text>
<line x1="497.00" y1="62.60" x2="500.80" y2="62.60" stroke="#222" stroke-width="1.0"/>
<line x1="787.90" y1="62.60" x2="791.50" y2="62.60" stroke="#222" stroke-width="1.0"/>
<line x1="494.60" y1="54.88" x2="500.80" y2="54.88" stroke="#222" stroke-width="1.1"/>
<line x1="785.00" y1="54.88" x2="791.50" y2="54.88" stroke="#222" stroke-width="1.1"/>
<text x="468.52" y="58.58" font-size="13.2"  fill="#000" textLength="21.37" lengthAdjust="spacingAndGlyphs" stroke="#000" stroke-width="0.1">-2.0</text>
<line x1="497.00" y1="47.16" x2="500.80" y2="47.16" stroke="#222" stroke-width="1.0"/>
<line x1="787.90" y1="47.16" x2="791.50" y2="47.16" stroke="#222" stroke-width="1.0"/>
<line x1="494.60" y1="39.44" x2="500.80" y2="39.44" stroke="#222" stroke-width="1.1"/>
<line x1="785.00" y1="39.44" x2="791.50" y2="39.44" stroke="#222" stroke-width="1.1"/>
<text x="472.65" y="43.14" font-size="13.2"  fill="#000" textLength="17.24" lengthAdjust="spacingAndGlyphs" stroke="#000" stroke-width="0.1">0.0</text>
<line x1="497.00" y1="31.72" x2="500.80" y2="31.72" stroke="#222" stroke-width="1.0"/>
<line x1="787.90" y1="31.72" x2="791.50" y2="31.72" stroke="#222" stroke-width="1.0"/>
<line x1="494.60" y1="24.00" x2="500.80" y2="24.00" stroke="#222" stroke-width="1.1"/>
<line x1="785.00" y1="24.00" x2="791.50" y2="24.00" stroke="#222" stroke-width="1.1"/>
<text x="472.65" y="27.70" font-size="13.2"  fill="#000" textLength="17.24" lengthAdjust="spacingAndGlyphs" stroke="#000" stroke-width="0.1">2.0</text>
<line x1="497.00" y1="16.28" x2="500.80" y2="16.28" stroke="#222" stroke-width="1.0"/>
<line x1="787.90" y1="16.28" x2="791.50" y2="16.28" stroke="#222" stroke-width="1.0"/>
<line x1="501.20" y1="252.50" x2="501.20" y2="256.90" stroke="#444" stroke-width="1.0"/>
<line x1="501.20" y1="10.40" x2="501.20" y2="13.20" stroke="#8a8a8a" stroke-width="1.0"/>
<line x1="518.00" y1="252.50" x2="518.00" y2="259.90" stroke="#444" stroke-width="1.05"/>
<line x1="518.00" y1="10.40" x2="518.00" y2="16.70" stroke="#7a7a7a" stroke-width="1.0"/>
<text x="514.55" y="275.80" font-size="13.8"  fill="#000" textLength="6.90" lengthAdjust="spacingAndGlyphs" stroke="#000" stroke-width="0.08">0</text>
<line x1="534.80" y1="252.50" x2="534.80" y2="256.90" stroke="#444" stroke-width="1.0"/>
<line x1="534.80" y1="10.40" x2="534.80" y2="13.20" stroke="#8a8a8a" stroke-width="1.0"/>
<line x1="551.60" y1="252.50" x2="551.60" y2="259.90" stroke="#444" stroke-width="1.05"/>
<line x1="551.60" y1="10.40" x2="551.60" y2="16.70" stroke="#7a7a7a" stroke-width="1.0"/>
<text x="544.63" y="275.80" font-size="13.8"  fill="#000" textLength="13.79" lengthAdjust="spacingAndGlyphs" stroke="#000" stroke-width="0.08">20</text>
<line x1="568.40" y1="252.50" x2="568.40" y2="256.90" stroke="#444" stroke-width="1.0"/>
<line x1="568.40" y1="10.40" x2="568.40" y2="13.20" stroke="#8a8a8a" stroke-width="1.0"/>
<line x1="585.20" y1="252.50" x2="585.20" y2="259.90" stroke="#444" stroke-width="1.05"/>
<line x1="585.20" y1="10.40" x2="585.20" y2="16.70" stroke="#7a7a7a" stroke-width="1.0"/>
<text x="578.40" y="275.80" font-size="13.8"  fill="#000" textLength="13.79" lengthAdjust="spacingAndGlyphs" stroke="#000" stroke-width="0.08">40</text>
<line x1="602.00" y1="252.50" x2="602.00" y2="256.90" stroke="#444" stroke-width="1.0"/>
<line x1="602.00" y1="10.40" x2="602.00" y2="13.20" stroke="#8a8a8a" stroke-width="1.0"/>
<line x1="618.80" y1="252.50" x2="618.80" y2="259.90" stroke="#444" stroke-width="1.05"/>
<line x1="618.80" y1="10.40" x2="618.80" y2="16.70" stroke="#7a7a7a" stroke-width="1.0"/>
<text x="611.83" y="275.80" font-size="13.8"  fill="#000" textLength="13.79" lengthAdjust="spacingAndGlyphs" stroke="#000" stroke-width="0.08">60</text>
<line x1="635.60" y1="252.50" x2="635.60" y2="256.90" stroke="#444" stroke-width="1.0"/>
<line x1="635.60" y1="10.40" x2="635.60" y2="13.20" stroke="#8a8a8a" stroke-width="1.0"/>
<line x1="652.40" y1="252.50" x2="652.40" y2="259.90" stroke="#444" stroke-width="1.05"/>
<line x1="652.40" y1="10.40" x2="652.40" y2="16.70" stroke="#7a7a7a" stroke-width="1.0"/>
<text x="645.48" y="275.80" font-size="13.8"  fill="#000" textLength="13.79" lengthAdjust="spacingAndGlyphs" stroke="#000" stroke-width="0.08">80</text>
<line x1="669.20" y1="252.50" x2="669.20" y2="256.90" stroke="#444" stroke-width="1.0"/>
<line x1="669.20" y1="10.40" x2="669.20" y2="13.20" stroke="#8a8a8a" stroke-width="1.0"/>
<line x1="686.00" y1="252.50" x2="686.00" y2="259.90" stroke="#444" stroke-width="1.05"/>
<line x1="686.00" y1="10.40" x2="686.00" y2="16.70" stroke="#7a7a7a" stroke-width="1.0"/>
<text x="675.43" y="275.80" font-size="13.8"  fill="#000" textLength="20.69" lengthAdjust="spacingAndGlyphs" stroke="#000" stroke-width="0.08">100</text>
<line x1="702.80" y1="252.50" x2="702.80" y2="256.90" stroke="#444" stroke-width="1.0"/>
<line x1="702.80" y1="10.40" x2="702.80" y2="13.20" stroke="#8a8a8a" stroke-width="1.0"/>
<line x1="719.60" y1="252.50" x2="719.60" y2="259.90" stroke="#444" stroke-width="1.05"/>
<line x1="719.60" y1="10.40" x2="719.60" y2="16.70" stroke="#7a7a7a" stroke-width="1.0"/>
<text x="709.03" y="275.80" font-size="13.8"  fill="#000" textLength="20.69" lengthAdjust="spacingAndGlyphs" stroke="#000" stroke-width="0.08">120</text>
<line x1="736.40" y1="252.50" x2="736.40" y2="256.90" stroke="#444" stroke-width="1.0"/>
<line x1="736.40" y1="10.40" x2="736.40" y2="13.20" stroke="#8a8a8a" stroke-width="1.0"/>
<line x1="753.20" y1="252.50" x2="753.20" y2="259.90" stroke="#444" stroke-width="1.05"/>
<line x1="753.20" y1="10.40" x2="753.20" y2="16.70" stroke="#7a7a7a" stroke-width="1.0"/>
<text x="742.63" y="275.80" font-size="13.8"  fill="#000" textLength="20.69" lengthAdjust="spacingAndGlyphs" stroke="#000" stroke-width="0.08">140</text>
<line x1="770.00" y1="252.50" x2="770.00" y2="256.90" stroke="#444" stroke-width="1.0"/>
<line x1="770.00" y1="10.40" x2="770.00" y2="13.20" stroke="#8a8a8a" stroke-width="1.0"/>
<line x1="786.80" y1="252.50" x2="786.80" y2="259.90" stroke="#444" stroke-width="1.05"/>
<line x1="786.80" y1="10.40" x2="786.80" y2="16.70" stroke="#7a7a7a" stroke-width="1.0"/>
<text x="776.23" y="275.80" font-size="13.8"  fill="#000" textLength="20.69" lengthAdjust="spacingAndGlyphs" stroke="#000" stroke-width="0.08">160</text>
<g transform="translate(450.3,233.3) rotate(-90)">
<text x="-1.28" y="0.00" font-size="16"  fill="#000" textLength="69.75" lengthAdjust="spacingAndGlyphs" stroke="#000" stroke-width="0.06">kcal mol</text>
<text x="67.30" y="-8.40" font-size="9.5"  fill="#000" textLength="10.05" lengthAdjust="spacingAndGlyphs" stroke="#000" stroke-width="0.06">-1</text>
<text x="83.93" y="0.00" font-size="16"  fill="#000" textLength="17.34" lengthAdjust="spacingAndGlyphs" stroke="#000" stroke-width="0.06">of</text>
<text x="104.30" y="0.00" font-size="16"  fill="#000" textLength="72.34" lengthAdjust="spacingAndGlyphs" stroke="#000" stroke-width="0.06">injectant</text>
</g>
<text x="603.86" y="305.00" font-size="17.6"  fill="#000" textLength="83.53" lengthAdjust="spacingAndGlyphs"  stroke="#000" stroke-width="0.2">Molar Ratio</text>
<line x1="602.70" y1="80.20" x2="602.70" y2="97.70" stroke="#c4c4c4" stroke-width="2.0"/>
<line x1="602.20" y1="80.20" x2="602.20" y2="97.70" stroke="#8e8e8e" stroke-width="0.7"/>
<line x1="603.40" y1="76.20" x2="603.40" y2="80.60" stroke="#7c7c7c" stroke-width="1.1"/>
<line x1="612.00" y1="80.20" x2="612.00" y2="163.40" stroke="#c4c4c4" stroke-width="2.0"/>
<line x1="611.50" y1="80.20" x2="611.50" y2="163.40" stroke="#8e8e8e" stroke-width="0.7"/>
<line x1="612.70" y1="74.50" x2="612.70" y2="80.60" stroke="#7c7c7c" stroke-width="1.1"/>
<line x1="621.10" y1="80.20" x2="621.10" y2="160.80" stroke="#c4c4c4" stroke-width="2.0"/>
<line x1="620.60" y1="80.20" x2="620.60" y2="160.80" stroke="#8e8e8e" stroke-width="0.7"/>
<line x1="621.80" y1="73.60" x2="621.80" y2="80.60" stroke="#7c7c7c" stroke-width="1.1"/>
<line x1="630.50" y1="80.20" x2="630.50" y2="149.20" stroke="#c4c4c4" stroke-width="2.0"/>
<line x1="630.00" y1="80.20" x2="630.00" y2="149.20" stroke="#8e8e8e" stroke-width="0.7"/>
<line x1="631.20" y1="72.30" x2="631.20" y2="80.60" stroke="#7c7c7c" stroke-width="1.1"/>
<line x1="639.50" y1="80.20" x2="639.50" y2="135.00" stroke="#c4c4c4" stroke-width="2.0"/>
<line x1="639.00" y1="80.20" x2="639.00" y2="135.00" stroke="#8e8e8e" stroke-width="0.7"/>
<line x1="640.20" y1="76.40" x2="640.20" y2="80.60" stroke="#7c7c7c" stroke-width="1.1"/>
<line x1="648.50" y1="80.20" x2="648.50" y2="120.80" stroke="#c4c4c4" stroke-width="2.0"/>
<line x1="648.00" y1="80.20" x2="648.00" y2="120.80" stroke="#8e8e8e" stroke-width="0.7"/>
<line x1="649.20" y1="78.50" x2="649.20" y2="80.60" stroke="#7c7c7c" stroke-width="1.1"/>
<line x1="657.50" y1="80.20" x2="657.50" y2="102.70" stroke="#c4c4c4" stroke-width="2.0"/>
<line x1="657.00" y1="80.20" x2="657.00" y2="102.70" stroke="#8e8e8e" stroke-width="0.7"/>
<line x1="658.20" y1="76.30" x2="658.20" y2="80.60" stroke="#7c7c7c" stroke-width="1.1"/>
<line x1="666.40" y1="80.20" x2="666.40" y2="94.60" stroke="#c4c4c4" stroke-width="2.0"/>
<line x1="665.90" y1="80.20" x2="665.90" y2="94.60" stroke="#8e8e8e" stroke-width="0.7"/>
<line x1="667.10" y1="79.10" x2="667.10" y2="80.60" stroke="#7c7c7c" stroke-width="1.1"/>
<line x1="675.40" y1="80.20" x2="675.40" y2="92.70" stroke="#c4c4c4" stroke-width="2.0"/>
<line x1="674.90" y1="80.20" x2="674.90" y2="92.70" stroke="#8e8e8e" stroke-width="0.7"/>
<line x1="676.10" y1="79.50" x2="676.10" y2="80.60" stroke="#7c7c7c" stroke-width="1.1"/>
<line x1="684.40" y1="80.20" x2="684.40" y2="92.10" stroke="#c4c4c4" stroke-width="2.0"/>
<line x1="683.90" y1="80.20" x2="683.90" y2="92.10" stroke="#8e8e8e" stroke-width="0.7"/>
<line x1="685.10" y1="79.50" x2="685.10" y2="80.60" stroke="#7c7c7c" stroke-width="1.1"/>
<line x1="693.20" y1="80.20" x2="693.20" y2="91.50" stroke="#c4c4c4" stroke-width="2.0"/>
<line x1="692.70" y1="80.20" x2="692.70" y2="91.50" stroke="#8e8e8e" stroke-width="0.7"/>
<line x1="693.90" y1="79.50" x2="693.90" y2="80.60" stroke="#7c7c7c" stroke-width="1.1"/>
<line x1="702.30" y1="80.20" x2="702.30" y2="91.20" stroke="#c4c4c4" stroke-width="2.0"/>
<line x1="701.80" y1="80.20" x2="701.80" y2="91.20" stroke="#8e8e8e" stroke-width="0.7"/>
<line x1="703.00" y1="79.50" x2="703.00" y2="80.60" stroke="#7c7c7c" stroke-width="1.1"/>
<line x1="711.40" y1="80.20" x2="711.40" y2="91.50" stroke="#c4c4c4" stroke-width="2.0"/>
<line x1="710.90" y1="80.20" x2="710.90" y2="91.50" stroke="#8e8e8e" stroke-width="0.7"/>
<line x1="712.10" y1="79.50" x2="712.10" y2="80.60" stroke="#7c7c7c" stroke-width="1.1"/>
<line x1="720.50" y1="80.20" x2="720.50" y2="90.40" stroke="#c4c4c4" stroke-width="2.0"/>
<line x1="720.00" y1="80.20" x2="720.00" y2="90.40" stroke="#8e8e8e" stroke-width="0.7"/>
<line x1="721.20" y1="79.50" x2="721.20" y2="80.60" stroke="#7c7c7c" stroke-width="1.1"/>
<line x1="729.80" y1="80.20" x2="729.80" y2="90.40" stroke="#c4c4c4" stroke-width="2.0"/>
<line x1="729.30" y1="80.20" x2="729.30" y2="90.40" stroke="#8e8e8e" stroke-width="0.7"/>
<line x1="730.50" y1="79.50" x2="730.50" y2="80.60" stroke="#7c7c7c" stroke-width="1.1"/>
<line x1="738.80" y1="80.20" x2="738.80" y2="89.60" stroke="#c4c4c4" stroke-width="2.0"/>
<line x1="738.30" y1="80.20" x2="738.30" y2="89.60" stroke="#8e8e8e" stroke-width="0.7"/>
<line x1="739.50" y1="79.50" x2="739.50" y2="80.60" stroke="#7c7c7c" stroke-width="1.1"/>
<line x1="747.80" y1="80.20" x2="747.80" y2="89.30" stroke="#c4c4c4" stroke-width="2.0"/>
<line x1="747.30" y1="80.20" x2="747.30" y2="89.30" stroke="#8e8e8e" stroke-width="0.7"/>
<line x1="748.50" y1="79.50" x2="748.50" y2="80.60" stroke="#7c7c7c" stroke-width="1.1"/>
<line x1="756.80" y1="80.20" x2="756.80" y2="88.70" stroke="#c4c4c4" stroke-width="2.0"/>
<line x1="756.30" y1="80.20" x2="756.30" y2="88.70" stroke="#8e8e8e" stroke-width="0.7"/>
<line x1="757.50" y1="79.50" x2="757.50" y2="80.60" stroke="#7c7c7c" stroke-width="1.1"/>
<line x1="765.90" y1="80.20" x2="765.90" y2="88.10" stroke="#c4c4c4" stroke-width="2.0"/>
<line x1="765.40" y1="80.20" x2="765.40" y2="88.10" stroke="#8e8e8e" stroke-width="0.7"/>
<line x1="766.60" y1="79.50" x2="766.60" y2="80.60" stroke="#7c7c7c" stroke-width="1.1"/>
<line x1="774.90" y1="80.20" x2="774.90" y2="88.10" stroke="#c4c4c4" stroke-width="2.0"/>
<line x1="774.40" y1="80.20" x2="774.40" y2="88.10" stroke="#8e8e8e" stroke-width="0.7"/>
<line x1="775.60" y1="79.50" x2="775.60" y2="80.60" stroke="#7c7c7c" stroke-width="1.1"/>
<line x1="601.70" y1="80.20" x2="780.50" y2="80.20" stroke="#e27474" stroke-width="0.75"/>
<polyline points="520.3,232.2 521.6,232.1 522.8,231.9 524.1,231.7 525.3,231.4 526.6,231.1 527.9,230.8 529.1,230.5 530.4,230.1 531.6,229.7 532.9,229.3 534.2,228.9 535.4,228.4 536.7,227.9 537.9,227.3 539.2,226.7 540.5,226.1 541.7,225.3 543.0,224.6 544.2,223.7 545.5,222.8 546.8,221.8 548.0,220.7 549.3,219.4 550.5,218.0 551.8,216.4 553.1,214.6 554.3,212.4 555.6,209.8 556.8,206.9 558.1,203.7 559.4,199.6 560.6,195.0 561.9,190.4 563.1,186.1 564.4,181.6 565.7,176.8 566.9,171.4 568.2,165.7 569.4,159.7 570.7,153.9 572.0,148.3 573.2,142.7 574.5,137.2 575.7,131.7 577.0,126.3 578.3,120.7 579.5,115.1 580.8,109.8 582.0,105.0 583.3,100.4 584.5,96.1 585.8,91.9 587.1,87.9 588.3,84.0 589.6,79.9 590.8,76.1 592.1,72.7 593.4,70.1 594.6,67.7 595.9,65.7 597.1,63.9 598.4,62.4 599.7,60.9 600.9,59.6 602.2,58.3 603.4,57.2 604.7,56.1 606.0,55.1 607.2,54.2 608.5,53.3 609.7,52.6 611.0,51.9 612.3,51.2 613.5,50.6 614.8,50.0 616.0,49.5 617.3,49.0 618.6,48.6 619.8,48.2 621.1,47.8 622.3,47.4 623.6,47.0 624.9,46.7 626.1,46.4 627.4,46.1 628.6,45.8 629.9,45.5 631.2,45.3 632.4,45.0 633.7,44.8 634.9,44.5 636.2,44.3 637.5,44.0 638.7,43.8 640.0,43.6 641.2,43.4 642.5,43.2 643.8,43.0 645.0,42.9 646.3,42.7 647.5,42.6 648.8,42.5 650.1,42.4 651.3,42.3 652.6,42.2 653.8,42.2 655.1,42.1 656.4,42.0 657.6,41.9 658.9,41.9 660.1,41.8 661.4,41.7 662.7,41.6 663.9,41.6 665.2,41.5 666.4,41.4 667.7,41.4 669.0,41.3 670.2,41.3 671.5,41.2 672.7,41.1 674.0,41.1 675.3,41.0 676.5,41.0 677.8,40.9 679.0,40.9 680.3,40.8 681.6,40.8 682.8,40.8 684.1,40.7 685.3,40.7 686.6,40.7 687.9,40.6 689.1,40.6 690.4,40.6 691.6,40.5 692.9,40.5 694.2,40.5 695.4,40.5 696.7,40.5 697.9,40.4 699.2,40.4 700.5,40.4 701.7,40.4 703.0,40.4 704.2,40.4 705.5,40.4 706.8,40.4 708.0,40.4 709.3,40.4 710.5,40.4 711.8,40.4 713.0,40.4 714.3,40.4 715.6,40.4 716.8,40.4 718.1,40.4 719.3,40.4 720.6,40.4 721.9,40.4 723.1,40.4 724.4,40.4 725.6,40.4 726.9,40.4 728.2,40.4 729.4,40.4 730.7,40.4 731.9,40.4 733.2,40.4 734.5,40.4 735.7,40.4 737.0,40.4 738.2,40.4 739.5,40.4 740.8,40.4 742.0,40.4 743.3,40.4 744.5,40.4 745.8,40.4 747.1,40.5 748.3,40.5 749.6,40.5 750.8,40.5 752.1,40.5 753.4,40.5 754.6,40.5 755.9,40.5 757.1,40.5 758.4,40.5 759.7,40.5 760.9,40.5 762.2,40.5 763.4,40.5 764.7,40.5 766.0,40.6 767.2,40.6 768.5,40.6 769.7,40.6 771.0,40.6" fill="none" stroke="#3a3a3a" stroke-width="0.9"/>
<rect x="529.00" y="232.20" width="7" height="7.6" fill="#000"/>
<rect x="541.10" y="223.30" width="7" height="7.6" fill="#000"/>
<rect x="553.50" y="193.90" width="7" height="7.6" fill="#000"/>
<rect x="565.90" y="149.10" width="7" height="7.6" fill="#000"/>
<rect x="578.20" y="118.10" width="7" height="7.6" fill="#000"/>
<rect x="591.50" y="67.00" width="7" height="7.6" fill="#000"/>
<rect x="604.20" y="32.00" width="7" height="7.6" fill="#000"/>
<rect x="617.40" y="22.20" width="7" height="7.6" fill="#000"/>
<rect x="630.20" y="23.20" width="7" height="7.6" fill="#000"/>
<rect x="643.60" y="23.50" width="7" height="7.6" fill="#000"/>
<rect x="656.80" y="24.30" width="7" height="7.6" fill="#000"/>
<rect x="670.20" y="25.00" width="7" height="7.6" fill="#000"/>
<rect x="683.90" y="29.80" width="7" height="7.6" fill="#000"/>
<rect x="697.70" y="27.90" width="7" height="7.6" fill="#000"/>
<rect x="711.20" y="39.20" width="7" height="7.6" fill="#000"/>
<rect x="725.00" y="39.20" width="7" height="7.6" fill="#000"/>
<rect x="739.30" y="35.95" width="7" height="7.6" fill="#000"/>
<rect x="753.25" y="32.20" width="7" height="7.6" fill="#000"/>
<rect x="767.50" y="30.95" width="7" height="7.6" fill="#000"/>
<text x="575.96" y="189.00" font-size="15.2"  fill="#000" textLength="204.32" lengthAdjust="spacingAndGlyphs"  stroke="#000" stroke-width="0.2">NNM to TMV CP Discs , 20 °C</text>
<text x="578.44" y="209.00" font-size="15.1"  fill="#000" textLength="10.23" lengthAdjust="spacingAndGlyphs"  stroke="#000" stroke-width="0.2">K</text>
<text x="593.09" y="209.00" font-size="15.1"  fill="#000" textLength="8.53" lengthAdjust="spacingAndGlyphs"  stroke="#000" stroke-width="0.2">=</text>
<text x="602.76" y="209.00" font-size="15.1"  fill="#000" textLength="20.77" lengthAdjust="spacingAndGlyphs"  stroke="#000" stroke-width="0.2">1.5</text>
<text x="634.53" y="209.00" font-size="15.1"  fill="#000" textLength="12.72" lengthAdjust="spacingAndGlyphs"  stroke="#000" stroke-width="0.2">10</text>
<text x="657.49" y="209.00" font-size="15.1"  fill="#000" textLength="8.81" lengthAdjust="spacingAndGlyphs"  stroke="#000" stroke-width="0.2">±</text>
<text x="670.72" y="209.00" font-size="15.1"  fill="#000" textLength="21.14" lengthAdjust="spacingAndGlyphs"  stroke="#000" stroke-width="0.2">7.2</text>
<text x="702.28" y="209.00" font-size="15.1"  fill="#000" textLength="14.95" lengthAdjust="spacingAndGlyphs"  stroke="#000" stroke-width="0.2">10</text>
<text x="725.78" y="209.00" font-size="15.1"  fill="#000" textLength="13.45" lengthAdjust="spacingAndGlyphs"  stroke="#000" stroke-width="0.2">M</text>
<text x="623.59" y="209.00" font-size="15.8"  fill="#000" textLength="8.51" lengthAdjust="spacingAndGlyphs"  stroke="#000" stroke-width="0.2">×</text>
<text x="691.56" y="209.00" font-size="15.8"  fill="#000" textLength="8.78" lengthAdjust="spacingAndGlyphs"  stroke="#000" stroke-width="0.2">×</text>
<text x="650.12" y="204.00" font-size="9.3"  fill="#000" textLength="5.28" lengthAdjust="spacingAndGlyphs" stroke="#000" stroke-width="0.1">5</text>
<text x="718.71" y="204.00" font-size="9.3"  fill="#000" textLength="4.53" lengthAdjust="spacingAndGlyphs" stroke="#000" stroke-width="0.1">4</text>
<text x="739.76" y="204.00" font-size="9.3"  fill="#000" textLength="6.81" lengthAdjust="spacingAndGlyphs" stroke="#000" stroke-width="0.1">-1</text>
<text x="578.56" y="228.00" font-size="15.1"  fill="#000" textLength="9.30" lengthAdjust="spacingAndGlyphs"  stroke="#000" stroke-width="0.2">K</text>
<text x="599.20" y="228.00" font-size="15.1"  fill="#000" textLength="8.41" lengthAdjust="spacingAndGlyphs"  stroke="#000" stroke-width="0.2">=</text>
<text x="608.15" y="228.00" font-size="15.1"  fill="#000" textLength="28.56" lengthAdjust="spacingAndGlyphs"  stroke="#000" stroke-width="0.2">6.25</text>
<text x="639.41" y="228.00" font-size="15.1"  fill="#000" textLength="8.47" lengthAdjust="spacingAndGlyphs"  stroke="#000" stroke-width="0.2">μ</text>
<text x="648.00" y="228.00" font-size="15.1"  fill="#000" textLength="14.20" lengthAdjust="spacingAndGlyphs"  stroke="#000" stroke-width="0.2">M</text>
<text x="588.34" y="231.00" font-size="8.8"  fill="#000" textLength="6.06" lengthAdjust="spacingAndGlyphs" stroke="#000" stroke-width="0.1">d</text>
</svg></body></html>
